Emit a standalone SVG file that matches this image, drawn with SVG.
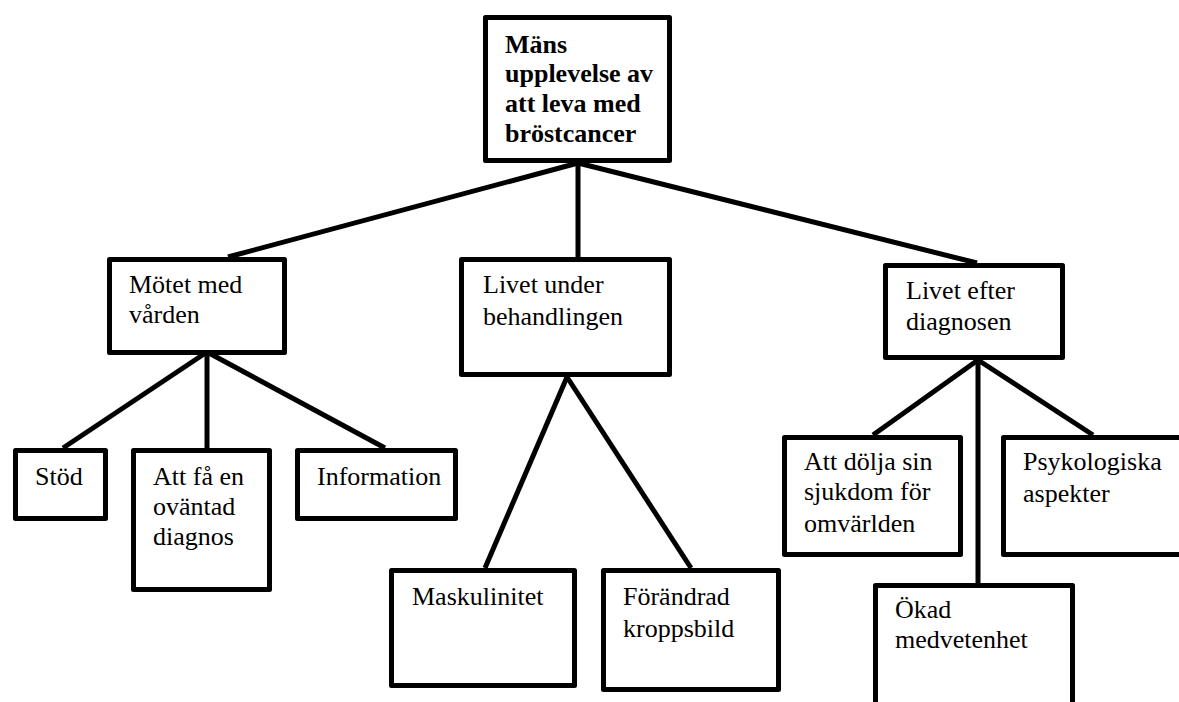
<svg xmlns="http://www.w3.org/2000/svg" width="1179" height="702" viewBox="0 0 1179 702">
<style>
.box{fill:#fff;stroke:#000;stroke-width:5;stroke-linejoin:round}
.con line{stroke:#000;stroke-width:5;stroke-linecap:butt}
.t{font-family:'Liberation Serif','Times New Roman',Tinos,'DejaVu Serif',serif;font-size:26px;fill:#000}
.b{font-weight:bold}
</style>
<rect width="1179" height="702" fill="#fff"/>
<g id="connectors" class="con">
<line x1="578" y1="163" x2="228" y2="257"/>
<line x1="578" y1="163" x2="578" y2="257"/>
<line x1="578" y1="163" x2="977" y2="263"/>
<line x1="207" y1="352" x2="63" y2="448"/>
<line x1="207" y1="352" x2="207" y2="448"/>
<line x1="207" y1="352" x2="385" y2="448"/>
<line x1="567" y1="377" x2="485" y2="568"/>
<line x1="567" y1="377" x2="691" y2="568"/>
<line x1="978" y1="360" x2="873" y2="435"/>
<line x1="978" y1="360" x2="978" y2="583"/>
<line x1="978" y1="360" x2="1093" y2="435"/>
</g>
<g id="root">
<rect class="box" x="485.5" y="17.5" width="184" height="143"/>
<text class="t b" font-family="Liberation Serif, serif"><tspan x="505" y="53">Mäns</tspan><tspan x="505" y="82">upplevelse av</tspan><tspan x="505" y="112">att leva med</tspan><tspan x="505" y="142">bröstcancer</tspan></text>
</g>
<g id="motet">
<rect class="box" x="109.5" y="259.5" width="175" height="93"/>
<text class="t"><tspan x="129" y="293">Mötet med</tspan><tspan x="129" y="323">vården</tspan></text>
</g>
<g id="livet-under">
<rect class="box" x="461.5" y="259.5" width="208" height="115"/>
<text class="t"><tspan x="483" y="293">Livet under</tspan><tspan x="483" y="325">behandlingen</tspan></text>
</g>
<g id="livet-efter">
<rect class="box" x="885.5" y="265.5" width="177" height="92"/>
<text class="t"><tspan x="906" y="299">Livet efter</tspan><tspan x="906" y="330">diagnosen</tspan></text>
</g>
<g id="stod">
<rect class="box" x="15.5" y="450.5" width="90" height="68"/>
<text class="t" x="35" y="485">Stöd</text>
</g>
<g id="att-fa">
<rect class="box" x="133.5" y="450.5" width="136" height="139"/>
<text class="t"><tspan x="153" y="485">Att få en</tspan><tspan x="153" y="515">oväntad</tspan><tspan x="153" y="545">diagnos</tspan></text>
</g>
<g id="information">
<rect class="box" x="297.5" y="450.5" width="158" height="68"/>
<text class="t" x="317" y="485">Information</text>
</g>
<g id="maskulinitet">
<rect class="box" x="391.5" y="570.5" width="183" height="115"/>
<text class="t" x="412" y="605">Maskulinitet</text>
</g>
<g id="forandrad">
<rect class="box" x="603.5" y="570.5" width="175" height="119"/>
<text class="t"><tspan x="623" y="605">Förändrad</tspan><tspan x="623" y="637">kroppsbild</tspan></text>
</g>
<g id="att-dolja">
<rect class="box" x="784.5" y="437.5" width="176" height="117"/>
<text class="t"><tspan x="804" y="470">Att dölja sin</tspan><tspan x="804" y="500">sjukdom för</tspan><tspan x="804" y="532">omvärlden</tspan></text>
</g>
<g id="psykologiska">
<rect class="box" x="1003.5" y="437.5" width="182" height="117"/>
<text class="t"><tspan x="1023" y="470">Psykologiska</tspan><tspan x="1023" y="502">aspekter</tspan></text>
</g>
<g id="okad">
<rect class="box" x="875.5" y="585.5" width="197" height="130"/>
<text class="t"><tspan x="895" y="618">Ökad</tspan><tspan x="895" y="648">medvetenhet</tspan></text>
</g>
</svg>
